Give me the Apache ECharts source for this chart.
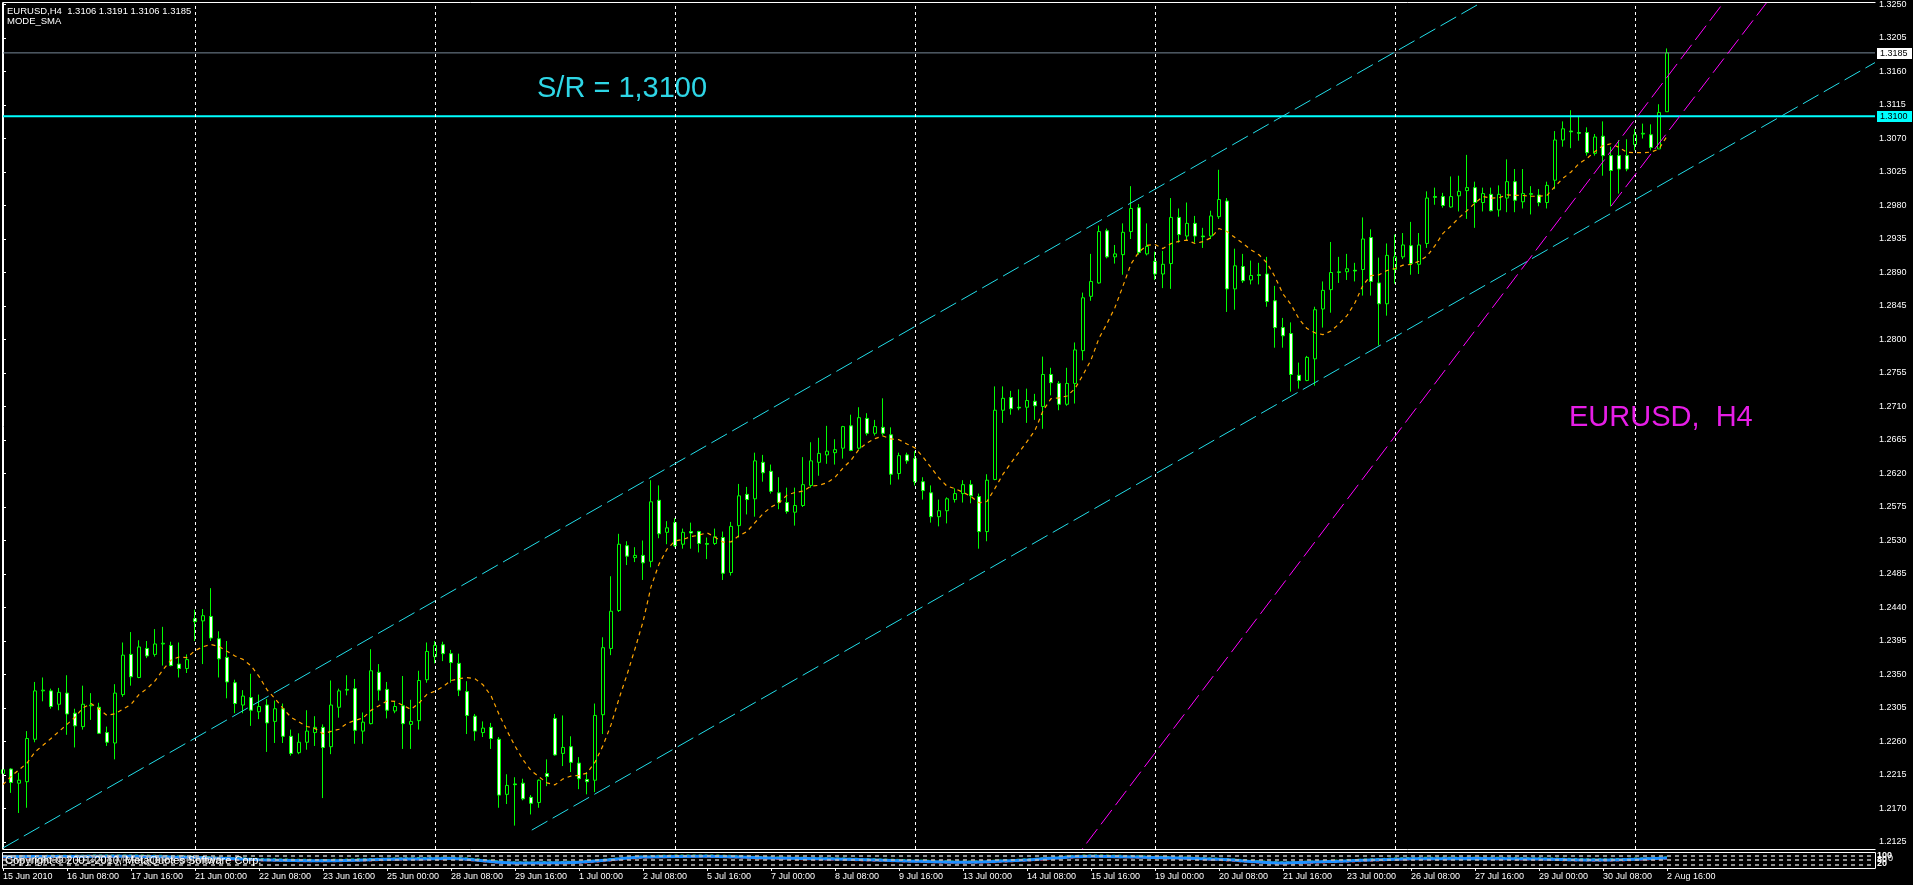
<!DOCTYPE html>
<html><head><meta charset="utf-8">
<script src="https://cdn.jsdelivr.net/npm/echarts@6/dist/echarts.min.js"></script>
<style>html,body{margin:0;padding:0;background:#000;overflow:hidden}#c{width:1913px;height:885px}</style>
</head><body><div id="c"></div>
<script>
// ---- data (15 Jun 2010 00:00 .. 2 Aug 2010 16:00), one entry per H4 bar ----
const open = [
1.2217,1.2223,1.2204,1.2206,1.2263,1.2328,1.2328,1.2310,1.2325,1.2298,
1.2280,1.2308,1.2306,1.2272,1.2258,1.2323,1.2377,1.2346,1.2385,1.2377,
1.2391,1.2389,1.2364,1.2358,1.2425,1.2422,1.2428,1.2398,1.2373,1.2339,
1.2309,1.2319,1.2300,1.2309,1.2287,1.2304,1.2267,1.2245,1.2259,1.2272,
1.2279,1.2253,1.2306,1.2329,1.2331,1.2274,1.2284,1.2353,1.2330,1.2301,
1.2308,1.2283,1.2288,1.2343,1.2374,1.2390,1.2378,1.2365,1.2327,1.2294,
1.2272,1.2279,1.2263,1.2189,1.2203,1.2204,1.2185,1.2178,1.2217,1.2291,
1.2244,1.2253,1.2231,1.2209,1.2208,1.2296,1.2385,1.2436,1.2523,1.2507,
1.2510,1.2502,1.2584,1.2541,1.2554,1.2525,1.2542,1.2542,1.2526,1.2526,
1.2534,1.2487,1.2550,1.2592,1.2586,1.2635,1.2623,1.2594,1.2581,1.2568,
1.2577,1.2604,1.2635,1.2645,1.2648,1.2654,1.2684,1.2654,1.2694,1.2674,
1.2682,1.2672,1.2620,1.2645,1.2640,1.2609,1.2594,1.2562,1.2570,1.2585,
1.2593,1.2605,1.2589,1.2542,1.2612,1.2705,1.2722,1.2709,1.2709,1.2717,
1.2710,1.2753,1.2741,1.2713,1.2741,1.2785,1.2858,1.2876,1.2946,1.2911,
1.2914,1.2945,1.2977,1.2915,1.2905,1.2888,1.2902,1.2964,1.2939,1.2956,
1.2939,1.2939,1.2965,1.2986,1.2868,1.2898,1.2880,1.2887,1.2888,1.2852,
1.2816,1.2808,1.2752,1.2745,1.2774,1.2841,1.2867,1.2890,1.2891,1.2893,
1.2894,1.2937,1.2876,1.2848,1.2894,1.2911,1.2926,1.2901,1.2929,1.2992,
1.2992,1.2978,1.2993,1.3000,1.3004,1.2984,1.2995,1.2974,1.2990,1.3012,
1.2985,1.2995,1.2994,1.2984,1.3014,1.3068,1.3080,1.3078,1.3078,1.3050,
1.3073,1.3047,1.3047,1.3047,1.3062,1.3076,1.3075,1.3056,1.3106];
const high = [
1.2228,1.2224,1.2218,1.2274,1.2340,1.2346,1.2331,1.2332,1.2349,1.2304,
1.2335,1.2325,1.2312,1.2280,1.2337,1.2393,1.2407,1.2396,1.2395,1.2411,
1.2414,1.2394,1.2393,1.2377,1.2437,1.2438,1.2466,1.2408,1.2395,1.2343,
1.2329,1.2351,1.2323,1.2317,1.2315,1.2311,1.2276,1.2271,1.2302,1.2294,
1.2283,1.2342,1.2331,1.2349,1.2344,1.2299,1.2384,1.2364,1.2340,1.2313,
1.2348,1.2316,1.2355,1.2393,1.2395,1.2394,1.2383,1.2378,1.2341,1.2297,
1.2287,1.2285,1.2266,1.2216,1.2212,1.2210,1.2188,1.2209,1.2236,1.2297,
1.2295,1.2267,1.2239,1.2219,1.2311,1.2400,1.2482,1.2539,1.2529,1.2521,
1.2530,1.2611,1.2604,1.2556,1.2560,1.2546,1.2554,1.2543,1.2534,1.2546,
1.2542,1.2555,1.2606,1.2602,1.2648,1.2645,1.2632,1.2615,1.2601,1.2601,
1.2642,1.2662,1.2668,1.2684,1.2666,1.2684,1.2699,1.2709,1.2701,1.2692,
1.2721,1.2682,1.2648,1.2648,1.2650,1.2615,1.2604,1.2585,1.2588,1.2600,
1.2611,1.2611,1.2593,1.2619,1.2737,1.2737,1.2731,1.2733,1.2734,1.2727,
1.2777,1.2762,1.2744,1.2762,1.2796,1.2863,1.2915,1.2953,1.2949,1.2927,
1.2956,1.3006,1.2982,1.2956,1.2918,1.2919,1.2990,1.2976,1.2984,1.2966,
1.2950,1.2973,1.3028,1.2990,1.2922,1.2915,1.2906,1.2903,1.2911,1.2872,
1.2829,1.2823,1.2769,1.2778,1.2844,1.2878,1.2931,1.2911,1.2915,1.2903,
1.2964,1.2948,1.2910,1.2929,1.2941,1.2943,1.2958,1.2943,1.2999,1.3004,
1.2997,1.3019,1.3020,1.3048,1.3012,1.3004,1.3004,1.3007,1.3042,1.3029,
1.3029,1.3006,1.3002,1.3012,1.3080,1.3093,1.3108,1.3099,1.3085,1.3076,
1.3093,1.3059,1.3068,1.3069,1.3083,1.3090,1.3089,1.3116,1.3191];
const low = [
1.2208,1.2191,1.2164,1.2171,1.2259,1.2314,1.2304,1.2302,1.2269,1.2252,
1.2276,1.2289,1.2270,1.2254,1.2236,1.2320,1.2335,1.2345,1.2372,1.2374,
1.2362,1.2361,1.2346,1.2352,1.2395,1.2364,1.2395,1.2346,1.2318,1.2298,
1.2298,1.2281,1.2290,1.2246,1.2258,1.2258,1.2241,1.2243,1.2249,1.2254,
1.2184,1.2243,1.2292,1.2322,1.2257,1.2257,1.2283,1.2315,1.2291,1.2298,
1.2250,1.2250,1.2276,1.2339,1.2365,1.2368,1.2339,1.2321,1.2270,1.2261,
1.2266,1.2250,1.2171,1.2176,1.2147,1.2181,1.2162,1.2171,1.2200,1.2241,
1.2227,1.2219,1.2196,1.2189,1.2192,1.2270,1.2376,1.2434,1.2497,1.2501,
1.2477,1.2494,1.2533,1.2525,1.2521,1.2519,1.2519,1.2514,1.2505,1.2524,
1.2477,1.2483,1.2534,1.2565,1.2562,1.2609,1.2593,1.2572,1.2566,1.2550,
1.2575,1.2601,1.2617,1.2633,1.2632,1.2640,1.2650,1.2652,1.2671,1.2671,
1.2671,1.2605,1.2612,1.2633,1.2604,1.2585,1.2554,1.2549,1.2553,1.2581,
1.2581,1.2580,1.2519,1.2529,1.2611,1.2688,1.2699,1.2705,1.2688,1.2692,
1.2680,1.2725,1.2705,1.2711,1.2714,1.2772,1.2852,1.2875,1.2909,1.2902,
1.2887,1.2935,1.2914,1.2913,1.2880,1.2869,1.2868,1.2930,1.2933,1.2930,
1.2923,1.2935,1.2962,1.2837,1.2840,1.2876,1.2874,1.2874,1.2844,1.2789,
1.2789,1.2730,1.2734,1.2744,1.2738,1.2816,1.2836,1.2876,1.2880,1.2878,
1.2859,1.2859,1.2792,1.2832,1.2875,1.2908,1.2887,1.2888,1.2923,1.2981,
1.2977,1.2977,1.2972,1.2962,1.2950,1.2972,1.2972,1.2965,1.2971,1.2971,
1.2976,1.2968,1.2979,1.2976,1.3002,1.3059,1.3057,1.3067,1.3047,1.3047,
1.3020,1.2979,1.2996,1.3026,1.3054,1.3070,1.3054,1.3056,1.3106];
const close = [
1.2222,1.2205,1.2208,1.2264,1.2328,1.2329,1.2307,1.2326,1.2297,1.2281,
1.2310,1.2309,1.2271,1.2259,1.2325,1.2376,1.2347,1.2387,1.2375,1.2391,
1.2392,1.2362,1.2358,1.2370,1.2421,1.2429,1.2399,1.2371,1.2340,1.2311,
1.2321,1.2302,1.2307,1.2285,1.2304,1.2267,1.2244,1.2259,1.2274,1.2279,
1.2252,1.2309,1.2328,1.2330,1.2275,1.2286,1.2355,1.2329,1.2302,1.2307,
1.2284,1.2287,1.2342,1.2381,1.2389,1.2378,1.2366,1.2329,1.2295,1.2274,
1.2278,1.2264,1.2188,1.2201,1.2202,1.2183,1.2177,1.2208,1.2213,1.2242,
1.2252,1.2232,1.2210,1.2206,1.2295,1.2386,1.2435,1.2525,1.2509,1.2510,
1.2500,1.2582,1.2539,1.2547,1.2523,1.2541,1.2540,1.2526,1.2525,1.2535,
1.2486,1.2549,1.2590,1.2585,1.2637,1.2621,1.2596,1.2581,1.2569,1.2577,
1.2605,1.2637,1.2647,1.2650,1.2652,1.2683,1.2651,1.2695,1.2674,1.2683,
1.2674,1.2619,1.2644,1.2637,1.2609,1.2597,1.2562,1.2570,1.2586,1.2593,
1.2605,1.2590,1.2542,1.2611,1.2705,1.2721,1.2707,1.2708,1.2718,1.2711,
1.2753,1.2742,1.2713,1.2741,1.2786,1.2856,1.2878,1.2945,1.2911,1.2915,
1.2944,1.2976,1.2917,1.2925,1.2888,1.2901,1.2964,1.2941,1.2956,1.2939,
1.2938,1.2966,1.2988,1.2868,1.2899,1.2879,1.2886,1.2886,1.2851,1.2816,
1.2805,1.2753,1.2745,1.2776,1.2840,1.2866,1.2890,1.2891,1.2895,1.2892,
1.2935,1.2878,1.2848,1.2913,1.2911,1.2927,1.2902,1.2927,1.2990,1.2991,
1.2980,1.2992,1.2999,1.3004,1.2984,1.2996,1.2973,1.2995,1.3012,1.2987,
1.2996,1.2996,1.2984,1.3007,1.3068,1.3083,1.3079,1.3077,1.3051,1.3072,
1.3047,1.3027,1.3029,1.3029,1.3075,1.3077,1.3058,1.3105,1.3185];

// time-axis labels, one every 8 bars
const timeLabels = ['15 Jun 2010','16 Jun 08:00','17 Jun 16:00','21 Jun 00:00','22 Jun 08:00','23 Jun 16:00',
 '25 Jun 00:00','28 Jun 08:00','29 Jun 16:00','1 Jul 00:00','2 Jul 08:00','5 Jul 16:00','7 Jul 00:00',
 '8 Jul 08:00','9 Jul 16:00','13 Jul 00:00','14 Jul 08:00','15 Jul 16:00','19 Jul 00:00','20 Jul 08:00',
 '21 Jul 16:00','23 Jul 00:00','26 Jul 08:00','27 Jul 16:00','29 Jul 00:00','30 Jul 08:00','2 Aug 16:00'];
// price scale labels
const priceTicks = [1.2125,1.2170,1.2215,1.2260,1.2305,1.2350,1.2395,1.2440,1.2485,1.2530,1.2575,1.2620,
 1.2665,1.2710,1.2755,1.2800,1.2845,1.2890,1.2935,1.2980,1.3025,1.3070,1.3115,1.3160,1.3205,1.3250];
// Monday 00:00 bars (weekly vertical grid)
const weekBars = [24,54,84,114,144,174,204];
// SMA values for the first bars (earlier history not on chart)
const maHead = [1.2202,1.2213,1.2222,1.2231,1.2246,1.2255,1.2264];
const maPeriod = 8;
// drawn objects: [bar, price]
const channelUpper = [[0,1.2117],[234,1.3555]];
const channelLower = [[66.1,1.2141],[234,1.3172]];
const magentaLong = [[130,1.2046],[234,1.3521]];
const magentaShort = [[201,1.2979],[234,1.3443]];
const srLevel = 1.3100;
const bidPrice = 1.3185;
// lower (squashed) indicator window
const indBars  = [0,8,16,24,32,40,48,56,64,72,80,88,96,104,112,120,128,136,144,152,160,168,176,184,192,200,208];
const indBlue  = [70,72,74,66,52,46,54,60,32,36,68,74,62,56,46,36,50,74,66,54,32,44,58,60,56,50,62];
const indGreen = [76,78,80,72,58,52,60,66,38,42,74,80,68,62,52,42,56,80,72,60,38,50,64,66,62,56,68];
const indRed   = [64,66,68,60,46,40,48,54,26,30,62,68,56,50,40,30,44,68,60,48,26,38,52,54,50,44,56];
const indLevels = [78,50,22];

// ---- build ----
const NCAT = 235;
const cats = Array.from({length: NCAT}, (_, i) => String(i));
const candles = open.map((o, i) => [o, close[i], low[i], high[i]]);
const ma = close.map((c, i) => {
  if (i < maPeriod - 1) return maHead[i];
  let s = 0; for (let k = i - maPeriod + 1; k <= i; k++) s += close[k];
  return +(s / maPeriod).toFixed(5);
});
const FONT = "'Liberation Sans', Arial, sans-serif";
const showIdx = (i) => i % 8 === 0 && i <= 208;
const hline = (p) => [[0, p], [NCAT - 1, p]];

const chart = echarts.init(document.getElementById('c'), null, {renderer: 'canvas'});
const option = {
  backgroundColor: '#000',
  animation: false,
  grid: [
    {left: 3, top: 3, width: 1872, height: 846, show: false},
    {left: 3, top: 852, width: 1872, height: 16, show: false}
  ],
  xAxis: [
    {type: 'category', gridIndex: 0, data: cats, boundaryGap: false,
     axisLine: {show: false}, axisTick: {show: false}, axisLabel: {show: false}, splitLine: {show: false}},
    {type: 'value', gridIndex: 0, min: 0, max: NCAT - 1, show: false},
    {type: 'category', gridIndex: 1, data: cats, boundaryGap: false,
     axisLine: {show: true, lineStyle: {color: '#fff', width: 1}},
     axisTick: {show: true, interval: (i) => showIdx(i), length: 3, lineStyle: {color: '#fff'}},
     axisLabel: {show: true, interval: (i) => showIdx(i), align: 'left', margin: 4, color: '#fff',
       fontSize: 9, fontFamily: FONT, formatter: (v, i) => timeLabels[i / 8] || ''},
     splitLine: {show: false}},
    {type: 'value', gridIndex: 1, min: 0, max: NCAT - 1, show: false}
  ],
  yAxis: [
    {type: 'value', gridIndex: 0, position: 'right', min: 1.21156, max: 1.32513, scale: true,
     axisLine: {show: true, lineStyle: {color: '#fff', width: 1}},
     axisTick: {show: true, customValues: priceTicks, length: 3, lineStyle: {color: '#fff'}},
     axisLabel: {show: true, customValues: priceTicks, margin: 4, color: '#fff', fontSize: 9, fontFamily: FONT,
       formatter: (v) => Number(v).toFixed(4)},
     splitLine: {show: false}},
    {type: 'value', gridIndex: 1, min: 0, max: 100, show: false}
  ],
  series: [
    {name: 'grid', type: 'line', xAxisIndex: 0, yAxisIndex: 0, data: [], z: 1, silent: true,
     markLine: {silent: true, symbol: ['none', 'none'], label: {show: false}, animation: false,
       lineStyle: {color: '#fff', width: 1, type: [3, 3]},
       data: weekBars.map(b => ({xAxis: String(b)}))}},
    {name: 'EURUSD', type: 'candlestick', xAxisIndex: 0, yAxisIndex: 0, data: candles, z: 3,
     barWidth: 4, silent: true,
     itemStyle: {color: '#000', color0: '#fff', borderColor: '#00ff00', borderColor0: '#00ff00',
       borderColorDoji: '#00ff00', borderWidth: 1}},
    {name: 'bid', type: 'line', xAxisIndex: 1, yAxisIndex: 0, data: hline(bidPrice), z: 4, symbol: 'none',
     silent: true, lineStyle: {color: '#778899', width: 1}},
    {name: 'sr', type: 'line', xAxisIndex: 1, yAxisIndex: 0, data: hline(srLevel), z: 4, symbol: 'none',
     silent: true, lineStyle: {color: '#00ffff', width: 2}},
    {name: 'MODE_SMA', type: 'line', xAxisIndex: 0, yAxisIndex: 0, data: ma, z: 5, symbol: 'none', silent: true,
     lineStyle: {color: '#ffa500', width: 1.2, type: [4, 4]}},
    {name: 'chU', type: 'line', xAxisIndex: 1, yAxisIndex: 0, data: channelUpper, z: 6, symbol: 'none', silent: true,
     lineStyle: {color: '#22dde8', width: 1, type: [18, 6]}},
    {name: 'chL', type: 'line', xAxisIndex: 1, yAxisIndex: 0, data: channelLower, z: 6, symbol: 'none', silent: true,
     lineStyle: {color: '#22dde8', width: 1, type: [18, 6]}},
    {name: 'mgL', type: 'line', xAxisIndex: 1, yAxisIndex: 0, data: magentaLong, z: 6, symbol: 'none', silent: true,
     lineStyle: {color: '#ff00ff', width: 1, type: [18, 6]}},
    {name: 'mgS', type: 'line', xAxisIndex: 1, yAxisIndex: 0, data: magentaShort, z: 6, symbol: 'none', silent: true,
     lineStyle: {color: '#ff00ff', width: 1, type: [18, 6]}},
    {name: 'lv', type: 'line', xAxisIndex: 3, yAxisIndex: 1, data: [], z: 2, silent: true,
     markLine: {silent: true, symbol: ['none', 'none'], label: {show: false}, animation: false, precision: 4,
       lineStyle: {color: '#c0c0c0', width: 1.5, type: [4, 4]},
       data: indLevels.map(v => ({yAxis: v}))}},
    {name: 'blue', type: 'line', xAxisIndex: 3, yAxisIndex: 1, data: indBars.map((b, i) => [b, indBlue[i]]),
     z: 4, symbol: 'none', smooth: 0.3, silent: true, lineStyle: {color: '#1e90ff', width: 3}},
    {name: 'green', type: 'line', xAxisIndex: 3, yAxisIndex: 1, data: indBars.map((b, i) => [b, indGreen[i]]),
     z: 3, symbol: 'none', smooth: 0.3, silent: true, lineStyle: {color: '#2ecc40', width: 1.5, type: [3, 3]}},
    {name: 'red', type: 'line', xAxisIndex: 3, yAxisIndex: 1, data: indBars.map((b, i) => [b, indRed[i]]),
     z: 3, symbol: 'none', smooth: 0.3, silent: true, lineStyle: {color: '#ff2020', width: 1.5, type: [3, 3]}}
  ]
};
chart.setOption(option);

const yBid = chart.convertToPixel({yAxisIndex: 0}, bidPrice);
const ySR = chart.convertToPixel({yAxisIndex: 0}, srLevel);
const W = {stroke: '#fff', lineWidth: 1};
const graphics = [
  // main window frame
  {type: 'line', shape: {x1: 2.5, y1: 2.5, x2: 1875.5, y2: 2.5}, style: W, z: 50},
  {type: 'line', shape: {x1: 2.5, y1: 2.5, x2: 2.5, y2: 849.5}, style: W, z: 50},
  {type: 'line', shape: {x1: 2.5, y1: 849.5, x2: 1875.5, y2: 849.5}, style: W, z: 50},
  // indicator window frame
  {type: 'line', shape: {x1: 2.5, y1: 852.5, x2: 1875.5, y2: 852.5}, style: W, z: 50},
  {type: 'line', shape: {x1: 2.5, y1: 852.5, x2: 2.5, y2: 868.5}, style: W, z: 50},
  {type: 'line', shape: {x1: 1875.5, y1: 852.5, x2: 1875.5, y2: 868.5}, style: W, z: 50},
  // title
  {type: 'text', x: 7, y: 11, z: 60, style: {text: 'EURUSD,H4  1.3106 1.3191 1.3106 1.3185', fill: '#fff',
    fontSize: 9.5, fontFamily: FONT, verticalAlign: 'middle'}},
  {type: 'text', x: 7, y: 21, z: 60, style: {text: 'MODE_SMA', fill: '#fff',
    fontSize: 9.5, fontFamily: FONT, verticalAlign: 'middle'}},
  // chart annotations
  {type: 'text', x: 537, y: 89, z: 60, style: {text: 'S/R = 1,3100', fill: '#2ed6e6',
    fontSize: 29, fontFamily: FONT, verticalAlign: 'middle'}},
  {type: 'text', x: 1569, y: 418, z: 60, style: {text: 'EURUSD,  H4', fill: '#e61ee6',
    fontSize: 29, fontFamily: FONT, verticalAlign: 'middle'}},
  // highlighted price labels
  {type: 'rect', shape: {x: 1877, y: Math.round(yBid) - 5, width: 35, height: 11}, style: {fill: '#fff'}, z: 60},
  {type: 'text', x: 1880, y: yBid + 0.5, z: 61, style: {text: bidPrice.toFixed(4), fill: '#000',
    fontSize: 9, fontFamily: FONT, verticalAlign: 'middle'}},
  {type: 'rect', shape: {x: 1877, y: Math.round(ySR) - 5, width: 35, height: 11}, style: {fill: '#00ffff'}, z: 60},
  {type: 'text', x: 1880, y: ySR + 0.5, z: 61, style: {text: srLevel.toFixed(4), fill: '#000',
    fontSize: 9, fontFamily: FONT, verticalAlign: 'middle'}},
  // overlapping indicator captions (squashed sub-window)
  {type: 'text', x: 5, y: 861, z: 60, style: {text: 'Copyright \u00a9 2001-2010, MetaQuotes Software Corp.',
    fill: '#fff', fontSize: 11, fontFamily: FONT, verticalAlign: 'middle'}},
  {type: 'text', x: 6, y: 860, z: 59, style: {text: 'SMI Indicator  \u00a9 2008 MetaQuotes Software',
    fill: '#bbbbbb', fontSize: 11, fontFamily: FONT, verticalAlign: 'middle'}},
  {type: 'text', x: 1877, y: 856, z: 60, style: {text: '100', fill: '#fff', fontSize: 9, fontWeight: 'bold',
    fontFamily: FONT, verticalAlign: 'middle'}},
  {type: 'text', x: 1877, y: 860, z: 60, style: {text: '80', fill: '#fff', fontSize: 9, fontWeight: 'bold',
    fontFamily: FONT, verticalAlign: 'middle'}},
  {type: 'text', x: 1877, y: 864, z: 60, style: {text: '20', fill: '#fff', fontSize: 9, fontWeight: 'bold',
    fontFamily: FONT, verticalAlign: 'middle'}},
  {type: 'text', x: 1888, y: 859, z: 60, style: {text: '0', fill: '#fff', fontSize: 9,
    fontFamily: FONT, verticalAlign: 'middle'}}
];
chart.setOption({graphic: graphics});
</script>
</body></html>
